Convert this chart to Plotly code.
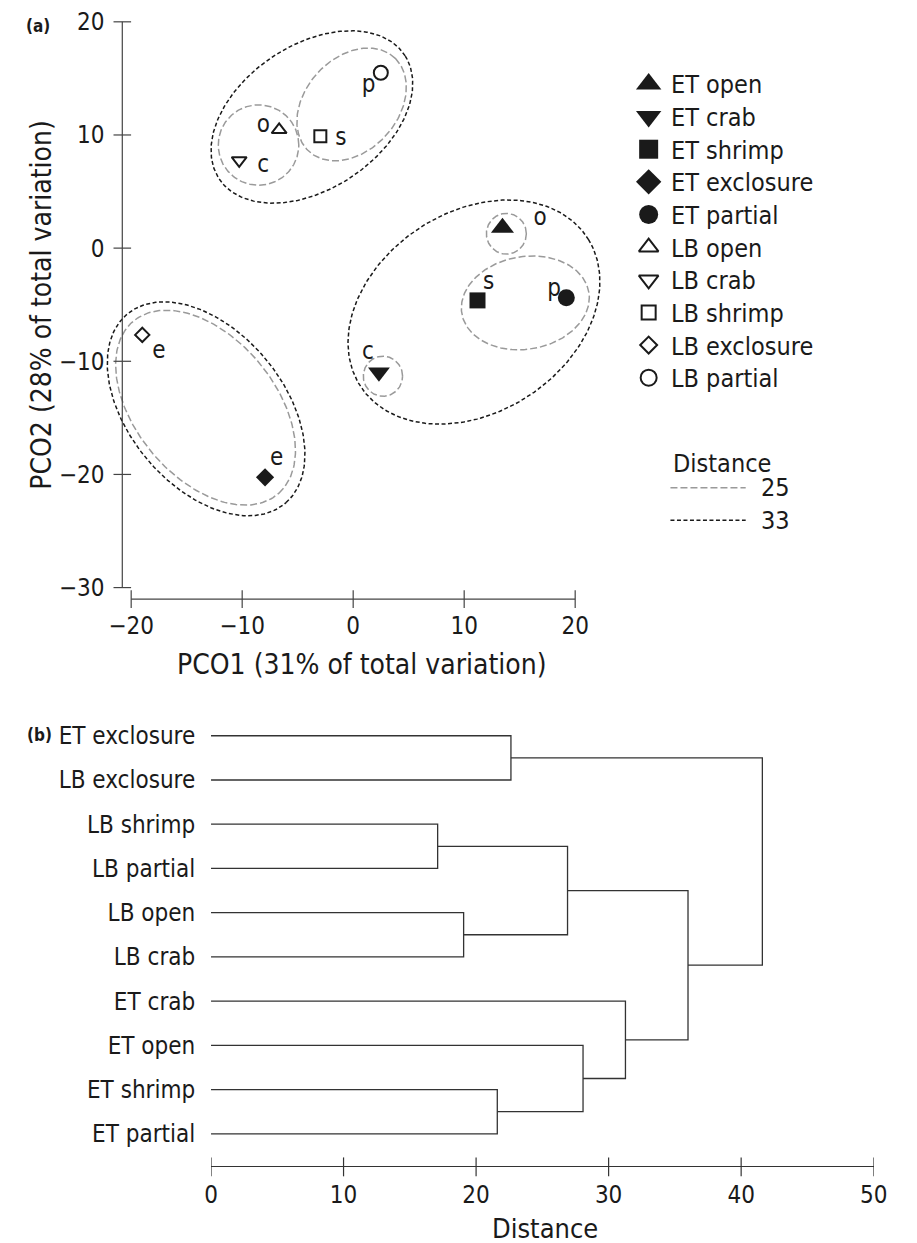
import numpy as np
import plotly.graph_objects as go

W, H = 917, 1243
FONT = "DejaVu Sans Condensed, DejaVu Sans, sans-serif"
INK = "#1a1a1a"

# ---------------- Panel (a) data ----------------
groups = ["ET open", "ET crab", "ET shrimp", "ET exclosure", "ET partial",
          "LB open", "LB crab", "LB shrimp", "LB exclosure", "LB partial"]
pco1 = [13.45, 2.32, 11.2, -7.94, 19.2, -6.67, -10.27, -2.96, -19.0, 2.49]
pco2 = [1.8, -10.96, -4.62, -20.26, -4.39, 10.46, 7.75, 9.88, -7.67, 15.5]
point_labels = ["o", "c", "s", "e", "p", "o", "c", "s", "e", "p"]
label_x = [16.85, 1.32, 12.2, -6.9, 18.1, -8.1, -8.1, -1.1, -17.5, 1.4]
label_y = [2.6, -9.23, -3.1, -18.6, -3.7, 10.75, 7.3, 9.6, -9.2, 14.3]

# cluster contours: distance level, centre, semi-axes, rotation (deg)
clust_level = [33, 33, 33, 25, 25, 25, 25, 25, 25]
clust_cx = [-3.72, 10.88, -13.25, -8.53, -0.14, 13.8, 2.68, 15.51, -13.3]
clust_cy = [11.59, -5.65, -14.2, 9.11, 12.7, 1.27, -11.32, -4.84, -14.1]
clust_a = [9.99, 12.15, 10.98, 3.63, 5.66, 1.8, 1.77, 5.8, 10.04]
clust_b = [6.39, 8.9, 6.94, 3.55, 4.14, 1.8, 1.77, 4.1, 6.25]
clust_rot = [32.7, 31.7, -49.0, 0.0, 46.0, 0.0, 0.0, 9.0, -49.0]

a_xticks = [-20, -10, 0, 10, 20]
a_yticks = [-30, -20, -10, 0, 10, 20]
dist_levels = [25, 33]

# ---------------- Panel (b) data ----------------
leaves = ["ET exclosure", "LB exclosure", "LB shrimp", "LB partial", "LB open",
          "LB crab", "ET crab", "ET open", "ET shrimp", "ET partial"]
merge_left = ["LB shrimp", "LB open", "ET shrimp", "ET exclosure", "n10",
              "ET open", "ET crab", "n14", "n13"]
merge_right = ["LB partial", "LB crab", "ET partial", "LB exclosure", "n11",
               "n12", "n15", "n16", "n17"]
merge_height = [17.1, 19.06, 21.6, 22.63, 26.9, 28.07, 31.27, 35.99, 41.6]
b_xticks = [0, 10, 20, 30, 40, 50]

# ---------------- styles ----------------
sym = {"ET open": "triangle-up", "ET crab": "triangle-down", "ET shrimp": "square",
       "ET exclosure": "diamond", "ET partial": "circle",
       "LB open": "triangle-up-open", "LB crab": "triangle-down-open",
       "LB shrimp": "square-open", "LB exclosure": "diamond-open",
       "LB partial": "circle-open"}
size_plot = {"ET open": 20, "ET crab": 19, "ET shrimp": 16, "ET exclosure": 14,
             "ET partial": 17, "LB open": 13, "LB crab": 13, "LB shrimp": 12,
             "LB exclosure": 11, "LB partial": 14}
size_leg = {"ET open": 22, "ET crab": 22, "ET shrimp": 19, "ET exclosure": 19.5,
            "ET partial": 19, "LB open": 17, "LB crab": 17, "LB shrimp": 14,
            "LB exclosure": 13, "LB partial": 16}
lev_color = {25: "#9a9a9a", 33: "#1a1a1a"}
lev_dash = {25: "7px,3px", 33: "4px,2.5px"}

# ---------------- pixel layout ----------------
A_X0, A_KX = 354.3, 11.36
A_Y0, A_KY = 243.3, 11.37
A_DOM_L, A_DOM_R = 95, 615
A_DOM_T, A_DOM_B = 8, 606
A_YAX_PX, A_XAX_PX = 118, 596
px2x = lambda p: (p - A_X0) / A_KX
px2y = lambda p: (A_Y0 - p) / A_KY

B_L, B_R = 208.8, 887.0
B_ROW0, B_ROWSTEP = 733.3, 44.44
B_AX_PX = 1166
B_TOP = 700
nb = len(leaves)
b_ymin = -(B_AX_PX - (B_ROW0 + (nb - 1) * B_ROWSTEP)) / B_ROWSTEP
b_ymax = (nb - 1) + (B_ROW0 - B_TOP) / B_ROWSTEP

fig = go.Figure()

# cluster contours
t = np.linspace(0, 2 * np.pi, 240)
for lev, cx, cy, a, b, th in zip(clust_level, clust_cx, clust_cy, clust_a, clust_b, clust_rot):
    r = np.deg2rad(th)
    ex = cx + a * np.cos(t) * np.cos(r) - b * np.sin(t) * np.sin(r)
    ey = cy + a * np.cos(t) * np.sin(r) + b * np.sin(t) * np.cos(r)
    fig.add_trace(go.Scatter(x=ex, y=ey, mode="lines", xaxis="x", yaxis="y",
                             line=dict(color=lev_color[lev], width=1.5, dash=lev_dash[lev]),
                             hoverinfo="skip", showlegend=False))

# points
for g, x, y in zip(groups, pco1, pco2):
    openm = g.startswith("LB")
    fig.add_trace(go.Scatter(
        x=[x], y=[y], mode="markers", name=g, xaxis="x", yaxis="y", showlegend=False,
        marker=dict(symbol=sym[g], size=size_plot[g], color=INK,
                    line=dict(color=INK, width=2 if openm else 0))))

# point letters
fig.add_trace(go.Scatter(x=label_x, y=label_y, text=point_labels, mode="text",
                         xaxis="x", yaxis="y", showlegend=False, hoverinfo="skip",
                         textfont=dict(family=FONT, size=24, color=INK)))

# dendrogram
pos = {name: (nb - 1 - i) for i, name in enumerate(leaves)}
hgt = {name: 0.0 for name in leaves}
dx, dy = [], []
for i, (l, r, d) in enumerate(zip(merge_left, merge_right, merge_height)):
    yl, yr = pos[l], pos[r]
    dx += [hgt[l], d, d, hgt[r], None]
    dy += [yl, yl, yr, yr, None]
    node = f"n{10 + i}"
    pos[node] = (yl + yr) / 2
    hgt[node] = d
fig.add_trace(go.Scatter(x=dx, y=dy, mode="lines", xaxis="x2", yaxis="y2",
                         line=dict(color="#333333", width=1.3), hoverinfo="skip",
                         showlegend=False))

# custom legend drawn on a pixel overlay axis
LEG_X, LEG_TX, LEG_Y0, LEG_DY = 656.7, 678.0, 78.3, 32.8
for i, g in enumerate(groups):
    openm = g.startswith("LB")
    yy = LEG_Y0 + i * LEG_DY
    fig.add_trace(go.Scatter(
        x=[LEG_X], y=[yy], mode="markers", xaxis="x3", yaxis="y3", showlegend=False,
        hoverinfo="skip",
        marker=dict(symbol=sym[g], size=size_leg[g], color=INK,
                    line=dict(color=INK, width=2 if openm else 0))))
annotations = []
for i, g in enumerate(groups):
    annotations.append(dict(x=LEG_TX, y=LEG_Y0 + i * LEG_DY + 1, xref="x3", yref="y3",
                            text=g, showarrow=False, xanchor="left", yanchor="middle",
                            font=dict(family=FONT, size=25, color=INK)))
annotations.append(dict(x=680, y=460, xref="x3", yref="y3", text="Distance",
                        showarrow=False, xanchor="left", yanchor="middle",
                        font=dict(family=FONT, size=25, color=INK)))
dl_y = [484, 516.7]
for lev, yy in zip(dist_levels, dl_y):
    fig.add_trace(go.Scatter(x=[679, 756], y=[yy, yy], mode="lines", xaxis="x3", yaxis="y3",
                             showlegend=False, hoverinfo="skip",
                             line=dict(color=lev_color[lev], width=1.5, dash=lev_dash[lev])))
    annotations.append(dict(x=770, y=yy, xref="x3", yref="y3", text=str(lev),
                            showarrow=False, xanchor="left", yanchor="middle",
                            font=dict(family=FONT, size=25, color=INK)))

# axis titles and panel tags
annotations += [
    dict(x=363.3 / W, y=1 - 661.7 / H, xref="paper", yref="paper",
         text="PCO1 (31% of total variation)", showarrow=False,
         font=dict(family=FONT, size=28, color=INK), xanchor="center", yanchor="middle"),
    dict(x=35 / W, y=1 - 300 / H, xref="paper", yref="paper", textangle=-90,
         text="PCO2 (28% of total variation)", showarrow=False,
         font=dict(family=FONT, size=28, color=INK), xanchor="center", yanchor="middle"),
    dict(x=551 / W, y=1 - 1228 / H, xref="paper", yref="paper", text="Distance",
         showarrow=False, font=dict(family=FONT, size=27, color=INK),
         xanchor="center", yanchor="middle"),
    dict(x=31.7 / W, y=1 - 20 / H, xref="paper", yref="paper", text="<b>(a)</b>",
         showarrow=False, font=dict(family=FONT, size=17, color=INK),
         xanchor="center", yanchor="middle"),
    dict(x=33 / W, y=1 - 733 / H, xref="paper", yref="paper", text="<b>(b)</b>",
         showarrow=False, font=dict(family=FONT, size=17, color=INK),
         xanchor="center", yanchor="middle"),
]

# axis lines and crossing ticks
AX = "#444444"
TH = 9  # half tick length, px
shapes = []
yax_x = px2x(A_YAX_PX)
xax_y = px2y(A_XAX_PX)
shapes.append(dict(type="line", xref="x", yref="y", x0=yax_x, x1=yax_x,
                   y0=min(a_yticks), y1=max(a_yticks), line=dict(color=AX, width=1.2)))
shapes.append(dict(type="line", xref="x", yref="y", x0=min(a_xticks), x1=max(a_xticks),
                   y0=xax_y, y1=xax_y, line=dict(color=AX, width=1.2)))
for v in a_yticks:
    shapes.append(dict(type="line", xref="paper", yref="y",
                       x0=(A_YAX_PX - TH) / W, x1=(A_YAX_PX + TH) / W,
                       y0=v, y1=v, line=dict(color=AX, width=1.2)))
for v in a_xticks:
    shapes.append(dict(type="line", xref="x", yref="paper", x0=v, x1=v,
                       y0=1 - (A_XAX_PX + TH) / H, y1=1 - (A_XAX_PX - TH) / H,
                       line=dict(color=AX, width=1.2)))
for v in b_xticks:
    shapes.append(dict(type="line", xref="x2", yref="paper", x0=v, x1=v,
                       y0=1 - (B_AX_PX + TH + 1) / H, y1=1 - (B_AX_PX - TH) / H,
                       line=dict(color="#333333", width=1.2)))

CLEAR = "rgba(0,0,0,0)"
tickfont = dict(family=FONT, size=24, color=INK)
fig.update_layout(
    width=W, height=H, margin=dict(l=0, r=0, t=0, b=0),
    paper_bgcolor="white", plot_bgcolor=CLEAR,
    showlegend=False, font=dict(family=FONT, color=INK),
    annotations=annotations, shapes=shapes,
    xaxis=dict(domain=[A_DOM_L / W, A_DOM_R / W], range=[px2x(A_DOM_L), px2x(A_DOM_R)],
               anchor="free", position=1 - A_XAX_PX / H,
               tickvals=a_xticks, ticktext=[str(v).replace("-", "\u2212") for v in a_xticks],
               ticks="outside", ticklen=5, tickcolor=CLEAR,
               showline=False, showgrid=False, zeroline=False, tickfont=tickfont),
    yaxis=dict(domain=[1 - A_DOM_B / H, 1 - A_DOM_T / H], range=[px2y(A_DOM_B), px2y(A_DOM_T)],
               anchor="free", position=A_YAX_PX / W,
               tickvals=a_yticks, ticktext=[str(v).replace("-", "\u2212") for v in a_yticks],
               ticks="outside", ticklen=13, tickcolor=CLEAR,
               showline=False, showgrid=False, zeroline=False, tickfont=tickfont),
    xaxis2=dict(domain=[B_L / W, B_R / W], range=[0, 50], anchor="y2",
                tickvals=b_xticks, ticks="outside", ticklen=7, tickcolor=CLEAR,
                showline=True, linecolor="#333333", linewidth=1.3,
                showgrid=False, zeroline=False, tickfont=tickfont),
    yaxis2=dict(domain=[1 - B_AX_PX / H, 1 - B_TOP / H], range=[b_ymin, b_ymax], anchor="x2",
                tickvals=[nb - 1 - i for i in range(nb)], ticktext=leaves,
                ticks="outside", ticklen=10, tickcolor=CLEAR,
                showline=False, showgrid=False, zeroline=False,
                tickfont=dict(family=FONT, size=24, color=INK)),
    xaxis3=dict(domain=[0, 1], range=[0, W], anchor="y3", visible=False, fixedrange=True),
    yaxis3=dict(domain=[0, 1], range=[H, 0], anchor="x3", visible=False, fixedrange=True),
)

fig.write_html("out.html")
